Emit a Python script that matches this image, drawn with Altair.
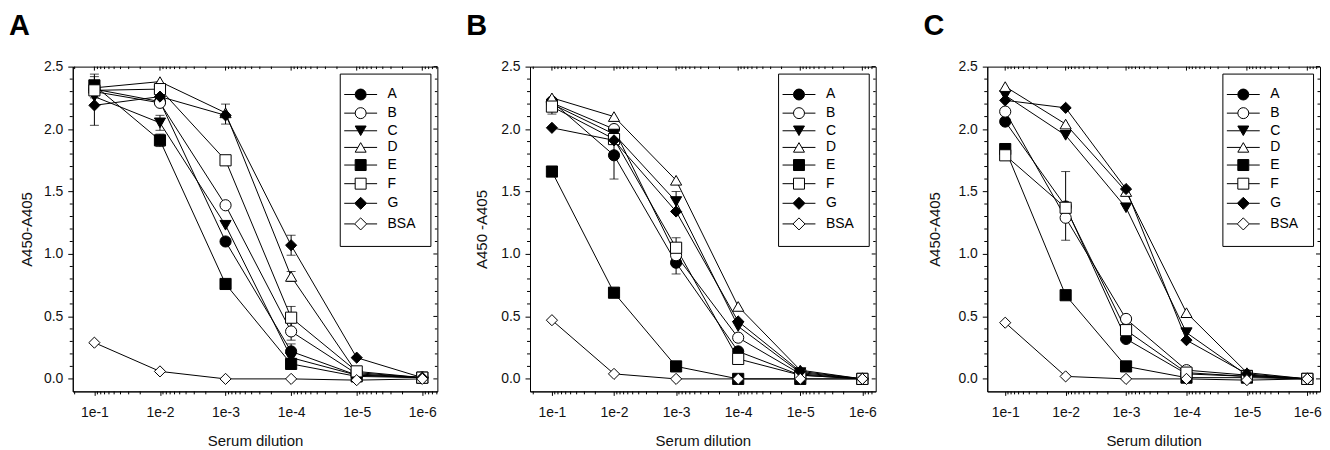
import math
import altair as alt
import pandas as pd

FONT = "Liberation Sans"

SERIES = ["A", "B", "C", "D", "E", "F", "G", "BSA"]
EXPONENTS = [1, 2, 3, 4, 5, 6]
SHAPES = ["circle", "circle", "triangle-down", "triangle-up", "square", "square", "diamond", "diamond"]
FILLS = ["black", "white", "black", "white", "black", "white", "black", "white"]
STROKES = ["black"] * 8
CIRCLE = "M1,0A1,1,0,1,1,-1,0A1,1,0,1,1,1,0Z"
LEGEND_PATHS = [
    "M-3,0H-1M1,0H3" + CIRCLE,
    "M-3,0H-1M1,0H3" + CIRCLE,
    "M-3,0H-0.5M0.5,0H3M-1,-0.87L1,-0.87L0,0.87Z",
    "M-3,0H-0.5M0.5,0H3M0,-0.87L1,0.87L-1,0.87Z",
    "M-3,0H-1M1,0H3M-1,-1H1V1H-1Z",
    "M-3,0H-1M1,0H3M-1,-1H1V1H-1Z",
    "M-3,0H-1.1M1.1,0H3M0,-1.1L1.1,0L0,1.1L-1.1,0Z",
    "M-3,0H-1.1M1.1,0H3M0,-1.1L1.1,0L0,1.1L-1.1,0Z",
]

# ---- values (A450-A405 vs serum dilution 1e-1 .. 1e-6) ----
PANEL_A = {
    "A":   [2.32, 2.22, 1.10, 0.22, 0.03, 0.01],
    "B":   [2.30, 2.21, 1.39, 0.38, 0.04, 0.01],
    "C":   [2.26, 2.05, 1.23, 0.17, 0.03, 0.01],
    "D":   [2.33, 2.38, 2.13, 0.82, 0.05, 0.01],
    "E":   [2.35, 1.91, 0.76, 0.12, 0.02, 0.01],
    "F":   [2.31, 2.32, 1.75, 0.49, 0.06, 0.01],
    "G":   [2.19, 2.26, 2.11, 1.07, 0.17, 0.01],
    "BSA": [0.29, 0.06, 0.00, 0.00, -0.01, 0.00],
}
PANEL_B = {
    "A":   [2.22, 1.79, 0.93, 0.22, 0.03, 0.00],
    "B":   [2.21, 2.00, 0.99, 0.33, 0.04, 0.00],
    "C":   [2.20, 1.96, 1.42, 0.42, 0.05, 0.00],
    "D":   [2.25, 2.10, 1.59, 0.58, 0.07, 0.00],
    "E":   [1.66, 0.69, 0.10, 0.00, 0.00, 0.00],
    "F":   [2.18, 1.92, 1.05, 0.16, 0.03, 0.00],
    "G":   [2.01, 1.91, 1.34, 0.46, 0.06, 0.00],
    "BSA": [0.47, 0.04, 0.00, 0.00, 0.00, 0.00],
}
PANEL_C = {
    "A":   [2.06, 1.38, 0.32, 0.04, 0.02, 0.00],
    "B":   [2.14, 1.29, 0.48, 0.07, 0.03, 0.00],
    "C":   [2.27, 1.95, 1.37, 0.37, 0.03, 0.00],
    "D":   [2.34, 2.04, 1.50, 0.53, 0.05, 0.00],
    "E":   [1.84, 0.67, 0.10, 0.01, 0.01, 0.00],
    "F":   [1.79, 1.37, 0.39, 0.05, 0.02, 0.00],
    "G":   [2.23, 2.17, 1.52, 0.31, 0.04, 0.00],
    "BSA": [0.45, 0.02, 0.00, 0.00, -0.01, 0.00],
}
# error bars: (series, exponent, low, high)
ERR_A = [("E", 1, 2.27, 2.44), ("D", 1, 2.25, 2.42), ("G", 1, 2.03, 2.35),
         ("C", 2, 1.99, 2.11), ("E", 2, 1.86, 1.96), ("G", 3, 2.04, 2.20),
         ("G", 4, 0.99, 1.15), ("D", 4, 0.78, 0.86), ("F", 4, 0.40, 0.58),
         ("B", 4, 0.31, 0.45), ("A", 4, 0.16, 0.28)]
ERR_B = [("F", 1, 2.12, 2.24), ("A", 2, 1.60, 1.98), ("C", 3, 1.34, 1.50),
         ("F", 3, 0.97, 1.13), ("A", 3, 0.84, 1.02)]
ERR_C = [("A", 2, 1.11, 1.66)]

Y_MAJOR = [0.0, 0.5, 1.0, 1.5, 2.0, 2.5]
Y_MINOR = [round(i * 0.1, 1) for i in range(1, 25) if i % 5 != 0]
X_MINOR_ALL = sorted(n + 1 - math.log10(k) for n in range(0, 7) for k in range(2, 10))

H = 326


def panel(letter, vals, errs, width, xdom, ytitle, ytitle_pad):
    rows = [dict(series=s, exp=e, val=v, order=i)
            for i, s in enumerate(SERIES) for e, v in zip(EXPONENTS, vals[s])]
    df = pd.DataFrame(rows)
    edf = pd.DataFrame(errs, columns=["series", "exp", "lo", "hi"])
    xs = alt.Scale(domain=xdom, nice=False, zero=False)
    ys = alt.Scale(domain=[-0.1, 2.5], nice=False, zero=False)
    X = alt.X("exp:Q", scale=xs, axis=alt.Axis(
        values=EXPONENTS, labelExpr="'1e-' + datum.value", title="Serum dilution",
        tickSize=4, labelPadding=10, titlePadding=14, labelFlush=False))
    Y = alt.Y("val:Q", scale=ys, axis=alt.Axis(
        values=Y_MAJOR, format=".1f", title=ytitle, tickSize=5, labelPadding=5,
        titlePadding=ytitle_pad))

    base = alt.Chart(df)
    lines = base.mark_line(color="black", strokeWidth=1).encode(
        x=X, y=Y, detail="series:N", order="exp:Q")
    eb = alt.Chart(edf)
    Xe = alt.X("exp:Q", scale=xs)
    err_rule = eb.mark_rule(color="black", strokeWidth=1).encode(
        x=Xe, y=alt.Y("lo:Q", scale=ys), y2="hi:Q")
    err_lo = eb.mark_tick(orient="horizontal", size=9, thickness=1, color="black").encode(
        x=Xe, y=alt.Y("lo:Q", scale=ys))
    err_hi = eb.mark_tick(orient="horizontal", size=9, thickness=1, color="black").encode(
        x=Xe, y=alt.Y("hi:Q", scale=ys))
    Xn = alt.X("exp:Q", scale=xs)
    Yn = alt.Y("val:Q", scale=ys)
    points = base.mark_point(filled=True, size=125, stroke="black", strokeWidth=1, opacity=1).encode(
        x=Xn, y=Yn,
        shape=alt.Shape("series:N", scale=alt.Scale(domain=SERIES, range=SHAPES), legend=None),
        fill=alt.Fill("series:N", scale=alt.Scale(domain=SERIES, range=FILLS), legend=None),
        order=alt.Order("order:Q"))
    leg = dict(title=None, orient="top-right", offset=7, padding=14, rowPadding=2.7,
               labelFontSize=14, labelOffset=20, labelFont=FONT,
               labelColor="black", strokeColor="black", fillColor="white",
               symbolStrokeColor="black", symbolStrokeWidth=1, symbolSize=121, labelLimit=0)
    legend_layer = base.transform_filter("false").mark_point(
        filled=False, size=121, strokeWidth=1, opacity=1).encode(
        x=Xn, y=Yn,
        shape=alt.Shape("series:N", scale=alt.Scale(domain=SERIES, range=LEGEND_PATHS),
                        legend=alt.Legend(**leg)),
        fill=alt.Fill("series:N", scale=alt.Scale(domain=SERIES, range=FILLS),
                      legend=alt.Legend(**leg)),
        stroke=alt.Stroke("series:N", scale=alt.Scale(domain=SERIES, range=STROKES),
                          legend=alt.Legend(**leg)))

    xm = pd.DataFrame({"pos": [p for p in X_MINOR_ALL if xdom[0] < p < xdom[1]]})
    xM = pd.DataFrame({"pos": EXPONENTS})
    ym = pd.DataFrame({"pos": Y_MINOR})
    yM = pd.DataFrame({"pos": Y_MAJOR})
    Xp = alt.X("pos:Q", scale=xs)
    Yp = alt.Y("pos:Q", scale=ys)
    rk = dict(color="black", strokeWidth=1)
    t_bottom_minor = alt.Chart(xm).mark_rule(**rk).encode(x=Xp, y=alt.value(H), y2=alt.value(H + 3))
    t_top_minor = alt.Chart(xm).mark_rule(**rk).encode(x=Xp, y=alt.value(0), y2=alt.value(2.5))
    t_top_major = alt.Chart(xM).mark_rule(**rk).encode(x=Xp, y=alt.value(0), y2=alt.value(4))
    t_left_minor = alt.Chart(ym).mark_rule(**rk).encode(y=Yp, x=alt.value(-3), x2=alt.value(0))
    t_right_minor = alt.Chart(ym).mark_rule(**rk).encode(y=Yp, x=alt.value(width - 2.5), x2=alt.value(width))
    t_right_major = alt.Chart(yM).mark_rule(**rk).encode(y=Yp, x=alt.value(width - 4), x2=alt.value(width))

    return alt.layer(
        lines, t_bottom_minor, t_top_minor, t_top_major, t_left_minor, t_right_minor,
        t_right_major, err_rule, err_lo, err_hi, points, legend_layer,
    ).resolve_scale(shape="independent", fill="independent", stroke="independent").properties(
        width=width, height=H,
        title=alt.TitleParams(letter, anchor="start", frame="group", dx=-64, fontSize=29,
                              fontWeight="bold", font=FONT, color="black", offset=-4,
                              baseline="alphabetic"))


pA = panel("A", PANEL_A, ERR_A, 366, [0.67, 6.23], "A450-A405", 9)
pB = panel("B", PANEL_B, ERR_B, 347, [0.647, 6.215], "A450 -A405", 11)
pC = panel("C", PANEL_C, ERR_C, 334, [0.703, 6.21], "A450-A405", 15)

ind = dict(x="independent", y="independent", shape="independent", fill="independent",
           stroke="independent")
chart = alt.hconcat(
    alt.hconcat(pA, pB, spacing=27).resolve_scale(**ind),
    pC, spacing=45,
).resolve_scale(**ind).properties(
    padding={"top": 2, "left": 0, "right": 0, "bottom": 0}
).configure_view(stroke="black", strokeWidth=1).configure_axis(
    grid=False, domainColor="black", domainWidth=1, tickColor="black", tickWidth=1,
    labelColor="#111", titleColor="#111", labelFont=FONT, titleFont=FONT,
    labelFontSize=14, titleFontSize=15, titleFontWeight="normal",
).configure_legend(strokeWidth=1)

chart.save("out.html", embed_options={"renderer": "svg", "actions": False})
